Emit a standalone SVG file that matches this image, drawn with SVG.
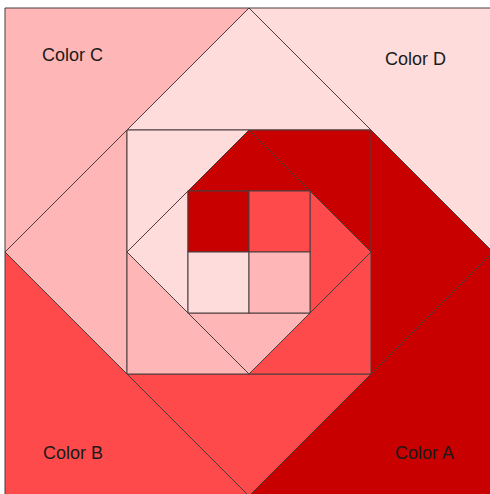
<svg xmlns="http://www.w3.org/2000/svg" width="490" height="494" viewBox="0 0 490 494">
<style>
.s{stroke:#4a3c3c;stroke-width:1;stroke-linejoin:miter}
.a{fill:#c80000}
.b{fill:#fe4a4a}
.c{fill:#ffb6b6}
.d{fill:#ffdcdc}
.t{font-family:"Liberation Sans",Arial,sans-serif;font-size:18px;fill:#1a1a1a}
</style>
<rect x="0" y="0" width="490" height="494" fill="#ffffff"/>
<g id="outer-corners">
<polygon class="s c" points="5,8 249,8 5,252"/>
<polygon class="s d" points="249,8 493,8 493,252"/>
<polygon class="s a" points="493,252 493,496 249,496"/>
<polygon class="s b" points="5,252 249,496 5,496"/>
</g>
<g id="diamond-triangles">
<polygon class="s d" points="127,130 249,8 371,130"/>
<polygon class="s a" points="371,130 493,252 371,374"/>
<polygon class="s b" points="371,374 249,496 127,374"/>
<polygon class="s c" points="127,374 5,252 127,130"/>
</g>
<g id="middle-corners">
<polygon class="s d" points="127,130 249,130 127,252"/>
<polygon class="s a" points="249,130 371,130 371,252"/>
<polygon class="s b" points="371,252 371,374 249,374"/>
<polygon class="s c" points="127,252 249,374 127,374"/>
</g>
<g id="inner-diamond-triangles">
<polygon class="s a" points="188,191 249,130 310,191"/>
<polygon class="s b" points="310,191 371,252 310,313"/>
<polygon class="s c" points="310,313 249,374 188,313"/>
<polygon class="s d" points="188,313 127,252 188,191"/>
</g>
<g id="inner-square">
<rect class="s a" x="188" y="191" width="61" height="61"/>
<rect class="s b" x="249" y="191" width="61" height="61"/>
<rect class="s d" x="188" y="252" width="61" height="61"/>
<rect class="s c" x="249" y="252" width="61" height="61"/>
</g>
<g id="labels">
<text class="t" x="42" y="61">Color C</text>
<text class="t" x="385" y="65">Color D</text>
<text class="t" x="43" y="459">Color B</text>
<text class="t" x="395" y="459">Color A</text>
</g>
</svg>
